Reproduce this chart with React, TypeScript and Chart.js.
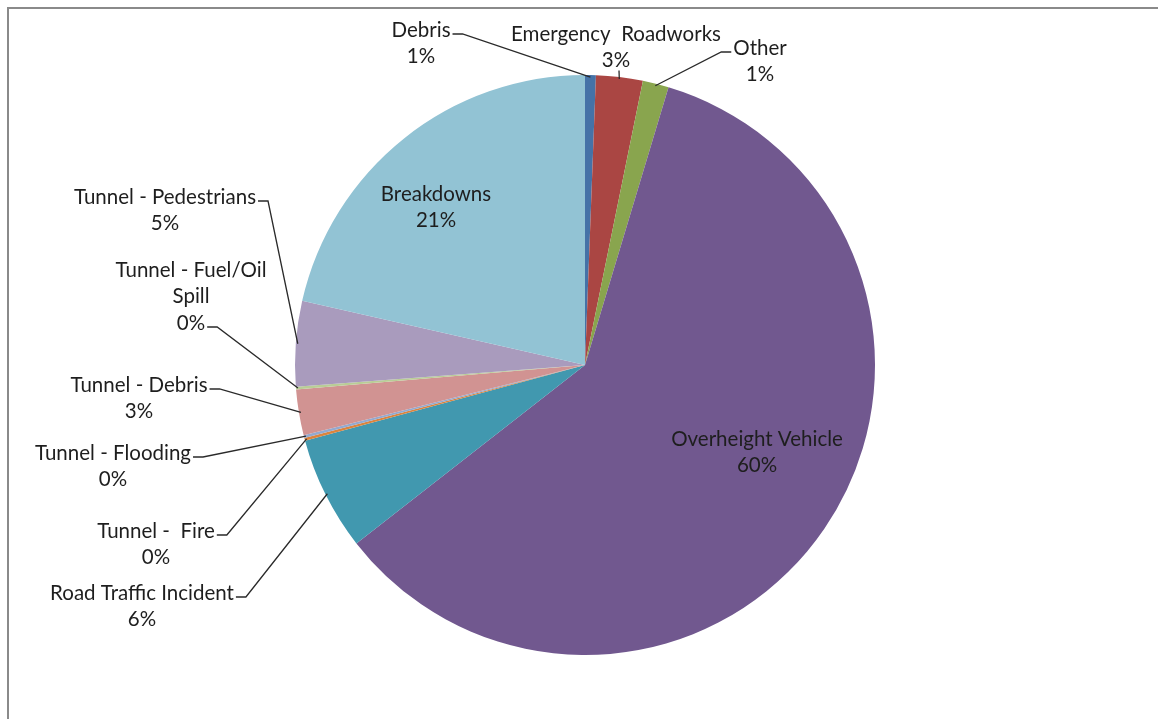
import React, { useEffect, useRef } from "react";
import { Chart, registerables } from "chart.js";

Chart.register(...registerables);

// ---- data ----
const categories: string[] = [
  "Debris",
  "Emergency  Roadworks",
  "Other",
  "Overheight Vehicle",
  "Road Traffic Incident",
  "Tunnel -  Fire",
  "Tunnel - Flooding",
  "Tunnel - Debris",
  "Tunnel - Fuel/Oil Spill",
  "Tunnel - Pedestrians",
  "Breakdowns",
];
const values: number[] = [0.6, 2.6, 1.45, 59.8, 6.35, 0.15, 0.15, 2.55, 0.15, 4.75, 21.45];

// ---- styles ----
const sliceColors: string[] = [
  "#4572A7",
  "#AA4643",
  "#89A54E",
  "#71588F",
  "#4198AF",
  "#DB843D",
  "#93A9CF",
  "#D19392",
  "#B9CD96",
  "#A99BBD",
  "#92C3D4",
];

// label layout: offset of the label block (centre of first line) from the pie centre,
// where the leader attaches, and optional wrap width
type Layout = { dx: number; dy: number; attach: "right" | "left" | "bottom" | "none"; line?: number; wrap?: number };
const labelLayout: Layout[] = [
  { dx: -164, dy: -335, attach: "right", line: 0 },
  { dx: 31, dy: -331, attach: "bottom" },
  { dx: 175, dy: -317, attach: "left", line: 0 },
  { dx: 172, dy: 74, attach: "none" },
  { dx: -443, dy: 228, attach: "right", line: 0 },
  { dx: -429, dy: 166, attach: "right", line: 0 },
  { dx: -472, dy: 88, attach: "right", line: 0 },
  { dx: -446, dy: 20, attach: "right", line: 0 },
  { dx: -394, dy: -95, attach: "right", line: 2, wrap: 180 },
  { dx: -420, dy: -168, attach: "right", line: 0 },
  { dx: -149, dy: -171, attach: "none" },
];

const FONT = "20.5px Lato, 'Open Sans', sans-serif";
const LINE_H = 26.5;

function wrapText(ctx: CanvasRenderingContext2D, text: string, maxW?: number): string[] {
  if (!maxW) return [text];
  const words = text.split(" ");
  const lines: string[] = [];
  let cur = "";
  for (const w of words) {
    const test = cur ? cur + " " + w : w;
    if (cur && ctx.measureText(test).width > maxW) {
      lines.push(cur);
      cur = w;
    } else cur = test;
  }
  if (cur) lines.push(cur);
  return lines;
}

const labelPlugin = {
  id: "excelLabels",
  afterDatasetsDraw(chart: any) {
    const ctx: CanvasRenderingContext2D = chart.ctx;
    const meta = chart.getDatasetMeta(0);
    const data: number[] = chart.data.datasets[0].data;
    const total = data.reduce((a, b) => a + b, 0);
    ctx.save();
    ctx.font = FONT;
    ctx.textAlign = "center";
    ctx.textBaseline = "middle";
    meta.data.forEach((arc: any, i: number) => {
      const lay = labelLayout[i];
      const cx = arc.x;
      const cy = arc.y;
      const pct = Math.round((data[i] / total) * 100) + "%";
      const lines = [...wrapText(ctx, chart.data.labels[i], lay.wrap), pct];
      const lx = cx + lay.dx;
      const ly = cy + lay.dy;
      ctx.fillStyle = "#1e1e1e";
      lines.forEach((t, k) => ctx.fillText(t, lx, ly + k * LINE_H));

      if (lay.attach === "none") return;
      const mid = (arc.startAngle + arc.endAngle) / 2;
      const r = arc.outerRadius - 2;
      const px = cx + Math.cos(mid) * r;
      const py = cy + Math.sin(mid) * r;
      ctx.strokeStyle = "#2a2a2a";
      ctx.lineWidth = 1.3;
      ctx.beginPath();
      if (lay.attach === "bottom") {
        const sy = ly + (lines.length - 1) * LINE_H + 10;
        ctx.moveTo(lx + 3, sy);
        ctx.lineTo(px, py);
      } else {
        const li = lay.line ?? 0;
        const w = ctx.measureText(lines[li]).width;
        const sy = ly + li * LINE_H + 4;
        const dir = lay.attach === "right" ? 1 : -1;
        const sx = lx + dir * (w / 2 + 2);
        ctx.moveTo(sx, sy);
        ctx.lineTo(sx + dir * 10, sy);
        ctx.lineTo(px, py);
      }
      ctx.stroke();
    });
    ctx.restore();
  },
};

export default function App() {
  const ref = useRef<HTMLCanvasElement | null>(null);
  useEffect(() => {
    if (!ref.current) return;
    const chart = new Chart(ref.current, {
      type: "pie",
      data: {
        labels: categories,
        datasets: [
          {
            data: values,
            backgroundColor: sliceColors,
            borderWidth: 0,
          },
        ],
      },
      options: {
        animation: false,
        responsive: false,
        maintainAspectRatio: false,
        layout: { padding: { left: 295, right: 283, top: 75, bottom: 64 } },
        plugins: {
          legend: { display: false },
          tooltip: { enabled: false },
        },
      },
      plugins: [labelPlugin],
    });
    return () => chart.destroy();
  }, []);

  return (
    <div style={{ position: "fixed", left: 0, top: 0, width: 1158, height: 719, background: "#fff", overflow: "hidden" }}>
      <div
        style={{
          position: "absolute",
          left: 7,
          top: 7,
          width: 1300,
          height: 900,
          borderTop: "2px solid #8a8a8a",
          borderLeft: "2px solid #8a8a8a",
        }}
      />
      <canvas ref={ref} width={1158} height={719} style={{ position: "absolute", left: 0, top: 0, width: 1158, height: 719 }} />
    </div>
  );
}
